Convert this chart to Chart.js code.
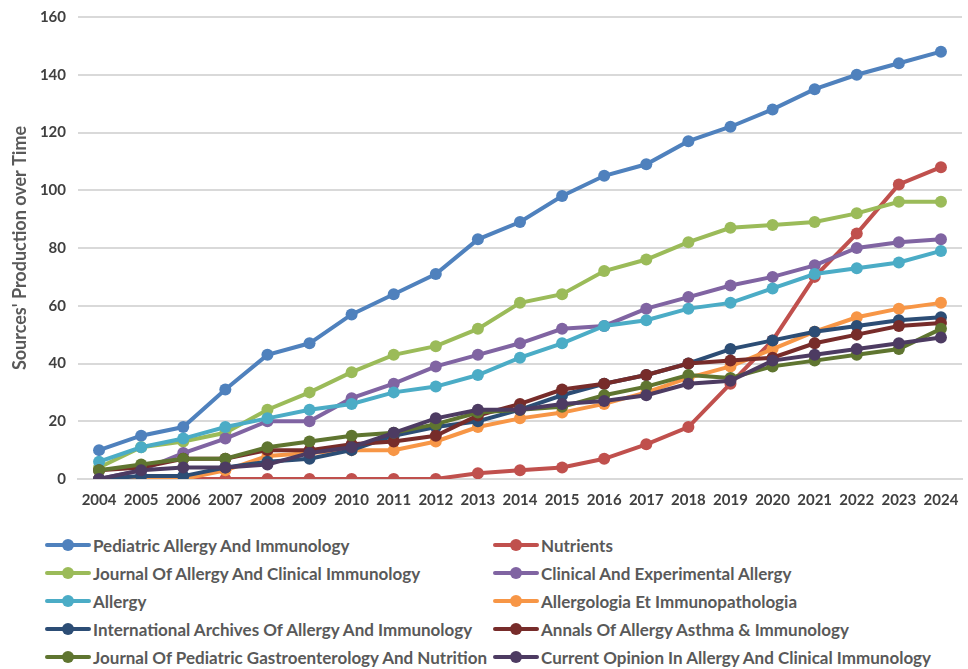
<!DOCTYPE html>
<html>
<head>
<meta charset="utf-8">
<script src="https://cdn.jsdelivr.net/npm/chart.js@4.4.1/dist/chart.umd.min.js"></script>
<style>
  html, body { margin: 0; padding: 0; background: #fff; }
  #wrap { position: relative; width: 968px; height: 669px; overflow: hidden; }
  #chart-box { position: absolute; left: 0; top: -4px; width: 968px; height: 526px; }
  #legend { position: absolute; left: 0; top: 531px; width: 968px; }
  .leg-item {
    position: absolute; height: 28px; display: flex; align-items: center;
    font-family: Lato, 'Open Sans', sans-serif; font-size: 17px; font-weight: bold; color: #595959;
    white-space: nowrap;
  }
  .leg-sample { position: relative; width: 46px; height: 4px; margin-right: 2px; border-radius: 2px; }
  .leg-sample::after {
    content: ''; position: absolute; left: 17px; top: -4px; width: 12px; height: 12px;
    border-radius: 50%; background: inherit;
  }
</style>
</head>
<body>
<div id="wrap">
  <div id="chart-box"><canvas id="grafica"></canvas></div>
  <div id="legend"></div>
</div>
<script>
const years = ['2004','2005','2006','2007','2008','2009','2010','2011','2012','2013','2014',
  '2015','2016','2017','2018','2019','2020','2021','2022','2023','2024'];

const pediatricAllergy = [10,15,18,31,43,47,57,64,71,83,89,98,105,109,117,122,128,135,140,144,148];
const nutrients        = [0,0,0,0,0,0,0,0,0,2,3,4,7,12,18,33,48,70,85,102,108];
const jaci             = [4,11,13,16,24,30,37,43,46,52,61,64,72,76,82,87,88,89,92,96,96];
const clinExpAllergy   = [0,3,9,14,20,20,28,33,39,43,47,52,53,59,63,67,70,74,80,82,83];
const allergy          = [6,11,14,18,21,24,26,30,32,36,42,47,53,55,59,61,66,71,73,75,79];
const allergologia     = [0,0,0,3,8,9,10,10,13,18,21,23,26,30,35,39,45,51,56,59,61];
const intArchives      = [0,1,1,4,6,7,10,15,18,20,24,29,33,36,40,45,48,51,53,55,56];
const annals           = [3,4,7,7,10,10,12,13,15,22,26,31,33,36,40,41,42,47,50,53,54];
const pedGastro        = [3,5,7,7,11,13,15,16,19,23,24,25,29,32,36,35,39,41,43,45,52];
const currentOpinion   = [0,3,4,4,5,9,11,16,21,24,24,26,27,29,33,34,41,43,45,47,49];

const yTicks = [0, 20, 40, 60, 80, 100, 120, 140, 160];

const series = [
  { label: 'Pediatric Allergy And Immunology', data: pediatricAllergy, color: '#4F81BD' },
  { label: 'Nutrients', data: nutrients, color: '#C0504D' },
  { label: 'Journal Of Allergy And Clinical Immunology', data: jaci, color: '#9BBB59' },
  { label: 'Clinical And Experimental Allergy', data: clinExpAllergy, color: '#8064A2' },
  { label: 'Allergy', data: allergy, color: '#4BACC6' },
  { label: 'Allergologia Et Immunopathologia', data: allergologia, color: '#F79646' },
  { label: 'International Archives Of Allergy And Immunology', data: intArchives, color: '#2C4D75' },
  { label: 'Annals Of Allergy Asthma & Immunology', data: annals, color: '#772C2A' },
  { label: 'Journal Of Pediatric Gastroenterology And Nutrition', data: pedGastro, color: '#5F7530' },
  { label: 'Current Opinion In Allergy And Clinical Immunology', data: currentOpinion, color: '#4D3B62' }
];

const FONT = 'Lato, "Open Sans", sans-serif';
const canvas = document.getElementById('grafica');

const chart = new Chart(canvas, {
  type: 'line',
  data: {
    labels: years,
    datasets: series.map((s, i) => ({
      label: s.label,
      data: s.data,
      borderColor: s.color,
      backgroundColor: s.color,
      pointBackgroundColor: s.color,
      pointBorderColor: s.color,
      borderWidth: 4,
      pointRadius: 6,
      pointBorderWidth: 0,
      tension: 0,
      order: series.length - i
    }))
  },
  options: {
    responsive: true,
    maintainAspectRatio: false,
    animation: false,
    layout: { padding: { top: 13, right: 0, left: 0, bottom: 0 } },
    plugins: {
      legend: { display: false },
      tooltip: { enabled: false }
    },
    scales: {
      x: {
        offset: true,
        grid: { display: false },
        border: { display: true, color: '#D9D9D9', width: 2 },
        ticks: {
          color: '#404040',
          font: { family: FONT, size: 15, weight: 'bold' },
          maxRotation: 0,
          autoSkip: false,
          padding: 4
        },
        afterFit: scale => { scale.height = 43; }
      },
      y: {
        min: 0,
        max: 160,
        afterBuildTicks: scale => { scale.ticks = yTicks.map(v => ({ value: v })); },
        grid: { color: '#D9D9D9', lineWidth: 2, drawTicks: false },
        border: { display: false },
        ticks: {
          color: '#404040',
          font: { family: FONT, size: 15, weight: 'bold' },
          padding: 12
        },
        title: {
          display: true,
          text: "Sources' Production over Time",
          color: '#595959',
          font: { family: FONT, size: 18, weight: 'bold' },
          padding: { top: 9, bottom: 4 }
        },
        afterFit: scale => { scale.width = 78; }
      }
    }
  }
});

// leyenda en dos columnas, como en el original
const legend = document.getElementById('legend');
chart.data.datasets.forEach((ds, i) => {
  const item = document.createElement('div');
  item.className = 'leg-item';
  item.style.left = (i % 2 === 0 ? 45 : 493) + 'px';
  item.style.top = (Math.floor(i / 2) * 28) + 'px';
  const sample = document.createElement('span');
  sample.className = 'leg-sample';
  sample.style.background = ds.borderColor;
  const txt = document.createElement('span');
  txt.textContent = ds.label;
  item.appendChild(sample);
  item.appendChild(txt);
  legend.appendChild(item);
});
</script>
</body>
</html>
